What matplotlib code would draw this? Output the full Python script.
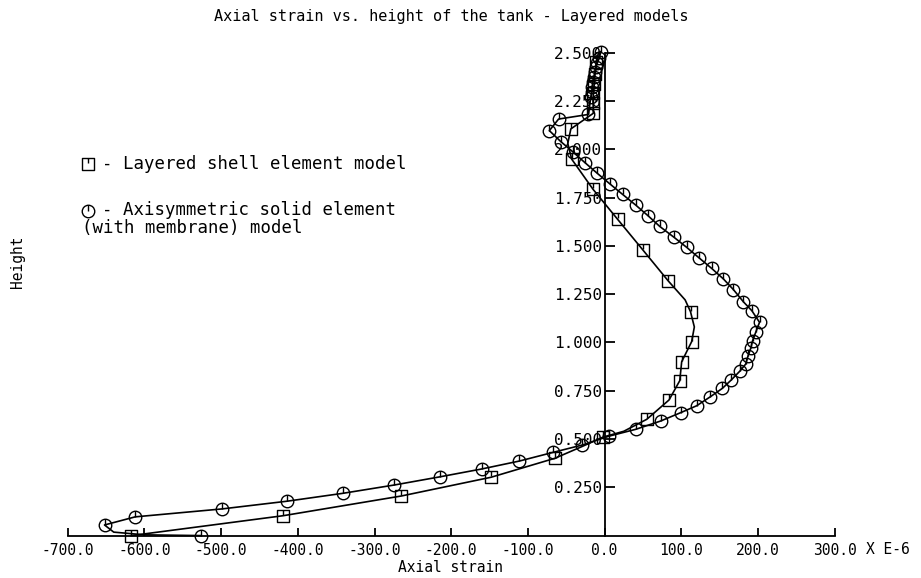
import matplotlib
matplotlib.use("Agg")
import matplotlib.pyplot as plt
from matplotlib.path import Path
import numpy as np

plt.rcParams['font.family'] = ['DejaVu Sans Mono']
plt.rcParams['axes.unicode_minus'] = False

# ---- Data (strain in micro-strain, height) ----
# Layered shell element model (squares)
shell_line_strain = [-8, -11, -12.5, -13.4, -14.7, -15, -14.7, -44, -48, -43, -15, 17, 50, 83,
                     105, 112, 117, 113.5, 100.5, 98, 84, 55, 25, -2, -30, -65, -148, -265, -419, -617]
shell_line_height = [2.50, 2.45, 2.39, 2.34, 2.29, 2.24, 2.186, 2.105, 2.03, 1.949, 1.792, 1.637, 1.478, 1.318,
                     1.22, 1.159, 1.08, 1.004, 0.90, 0.802, 0.702, 0.602, 0.54, 0.51, 0.46, 0.40, 0.302, 0.205, 0.103, 0.0]
shell_mark_strain = [-11, -12.5, -13.4, -14.7, -15, -14.7, -44, -43, -15, 17, 50, 83, 112, 113.5,
                     100.5, 98, 84, 55, -2, -65, -148, -265, -419, -617]
shell_mark_height = [2.45, 2.39, 2.34, 2.29, 2.24, 2.186, 2.105, 1.949, 1.792, 1.637, 1.478, 1.318, 1.159, 1.004,
                     0.90, 0.802, 0.702, 0.602, 0.51, 0.40, 0.302, 0.205, 0.103, 0.0]

# Axisymmetric solid element (with membrane) model (circles)
solid_mark_strain = [-5, -7, -9.5, -11, -12.5, -14, -15.5, -16, -17, -18, -21, -60, -72, -57, -41.6,
                     -25.5, -9.5, 7, 23.5, 40.5, 56.5, 72, 90.5, 107, 123, 139.6, 155, 168, 181, 192,
                     202, 197, 193, 190.5, 187, 184, 176.5, 165, 153.5, 138, 120, 99, 73, 40.5, 6,
                     -29, -67, -111, -160, -215, -274, -341, -414, -499, -612, -652, -526]
solid_mark_height = [2.505, 2.47, 2.448, 2.427, 2.40, 2.375, 2.35, 2.32, 2.295, 2.27, 2.18, 2.156, 2.096, 2.039, 1.987,
                     1.930, 1.875, 1.82, 1.766, 1.711, 1.656, 1.60, 1.544, 1.492, 1.438, 1.383, 1.328, 1.273, 1.21, 1.164,
                     1.104, 1.052, 1.009, 0.969, 0.93, 0.888, 0.852, 0.805, 0.762, 0.719, 0.672, 0.636, 0.593, 0.55, 0.515,
                     0.469, 0.431, 0.386, 0.345, 0.304, 0.262, 0.219, 0.178, 0.138, 0.097, 0.055, 0.0]
solid_line_strain = solid_mark_strain[:-1] + [-640, -600, -526]
solid_line_height = solid_mark_height[:-1] + [0.018, 0.004, 0.0]

x_ticks = [-700, -600, -500, -400, -300, -200, -100, 0, 100, 200, 300]
x_ticklabels = ["-700.0", "-600.0", "-500.0", "-400.0", "-300.0", "-200.0", "-100.0", "0.0", "100.0", "200.0", "300.0"]
y_ticks = [0.25, 0.5, 0.75, 1.0, 1.25, 1.5, 1.75, 2.0, 2.25, 2.5]
y_ticklabels = ["0.250", "0.500", "0.750", "1.000", "1.250", "1.500", "1.750", "2.000", "2.250", "2.500"]

# ---- custom markers: symbol with a short vertical stroke from top to centre ----
sq = Path([(-1, -1), (1, -1), (1, 1), (-1, 1), (-1, -1), (0, 1), (0, 0.2)],
          [Path.MOVETO, Path.LINETO, Path.LINETO, Path.LINETO, Path.CLOSEPOLY, Path.MOVETO, Path.LINETO])
circ = Path.make_compound_path(Path.unit_circle(),
                               Path([(0, 1), (0, 0)], [Path.MOVETO, Path.LINETO]))

fig = plt.figure(figsize=(9.21, 5.78), dpi=100)
ax = fig.add_axes([67.7 / 921, (578 - 535.6) / 578, 767 / 921, 483 / 578])

ax.plot(shell_line_strain, shell_line_height, color='black', lw=1.2, clip_on=False)
ax.plot(shell_mark_strain, shell_mark_height, ls='none', marker=sq, ms=8, mfc='none', mec='black',
        mew=1.0, clip_on=False)
ax.plot(solid_line_strain, solid_line_height, color='black', lw=1.2, clip_on=False)
ax.plot(solid_mark_strain, solid_mark_height, ls='none', marker=circ, ms=9, mfc='none', mec='black',
        mew=1.0, clip_on=False)

ax.set_xlim(-700, 300)
ax.set_ylim(0, 2.5)
for s in ['top', 'right']:
    ax.spines[s].set_visible(False)
ax.spines['left'].set_position(('data', 0))
ax.spines['left'].set_linewidth(1.3)
ax.spines['bottom'].set_linewidth(1.3)

ax.set_xticks(x_ticks)
ax.set_xticklabels(x_ticklabels, fontsize=10.5)
ax.set_yticks(y_ticks)
ax.set_yticklabels(y_ticklabels, fontsize=11.5)
ax.tick_params(axis='x', direction='in', length=6, width=1.3, pad=5)
ax.tick_params(axis='y', direction='in', length=7, width=1.3, pad=2)
ax.patch.set_alpha(0)

fig.text(866 / 921, 1 - 549 / 578, "X E-6", fontsize=10.5, ha='left', va='center')

fig.text(451 / 921, 1 - 17 / 578, "Axial strain vs. height of the tank - Layered models",
         fontsize=11, ha='center', va='center')
fig.text(450 / 921, 1 - 568 / 578, "Axial strain", fontsize=10.5, ha='center', va='center')
fig.text(18 / 921, 1 - 262 / 578, "Height", fontsize=10.5, ha='center', va='center', rotation=90)

# legend
fig.lines.append(plt.Line2D([88 / 921], [1 - 164 / 578], transform=fig.transFigure, marker=sq, ms=8,
                            mfc='none', mec='black', mew=1.0, ls='none'))
fig.text(102 / 921, 1 - 164 / 578, "- Layered shell element model", fontsize=12.5, ha='left', va='center')
fig.lines.append(plt.Line2D([88 / 921], [1 - 211 / 578], transform=fig.transFigure, marker=circ, ms=9,
                            mfc='none', mec='black', mew=1.0, ls='none'))
fig.text(102 / 921, 1 - 210 / 578, "- Axisymmetric solid element", fontsize=12.5, ha='left', va='center')
fig.text(82 / 921, 1 - 228 / 578, "(with membrane) model", fontsize=12.5, ha='left', va='center')

fig.savefig("out.png", dpi=100)
